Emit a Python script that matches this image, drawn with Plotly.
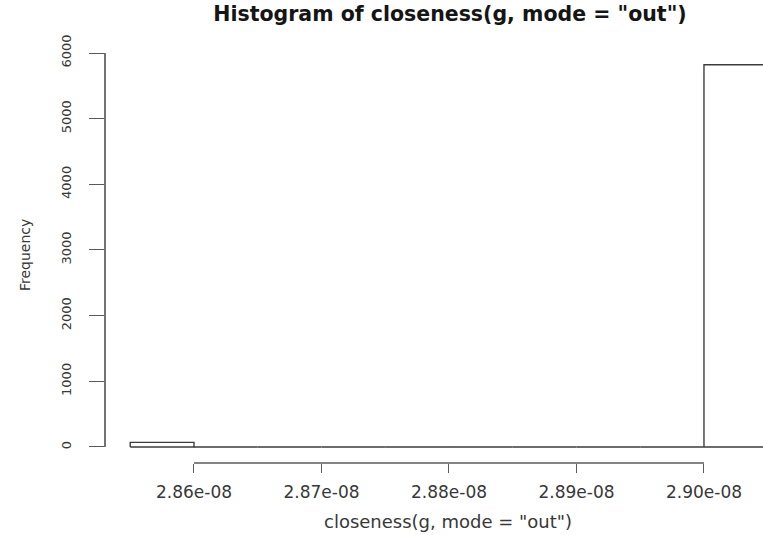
import plotly.graph_objects as go

# Histogram bins (closeness values) and their counts
bin_edges = [2.855e-08, 2.860e-08, 2.865e-08, 2.870e-08, 2.875e-08, 2.880e-08,
             2.885e-08, 2.890e-08, 2.895e-08, 2.900e-08, 2.905e-08]
counts = [70, 0, 0, 0, 0, 0, 0, 0, 0, 5820]

x_tickvals = [2.86e-08, 2.87e-08, 2.88e-08, 2.89e-08, 2.90e-08]
x_ticktext = ["2.86e-08", "2.87e-08", "2.88e-08", "2.89e-08", "2.90e-08"]
y_tickvals = [0, 1000, 2000, 3000, 4000, 5000, 6000]
y_ticktext = ["0", "1000", "2000", "3000", "4000", "5000", "6000"]

title_text = 'Histogram of closeness(g, mode = "out")'
x_label = 'closeness(g, mode = "out")'
y_label = "Frequency"

INK = "#383838"
AXIS = "#5a5a5a"
BAR = "#3c3c3c"
FONT = "DejaVu Sans"

# Outline every bin as an open rectangle (zero-count bins collapse onto the baseline)
rx, ry = [], []
for i, c in enumerate(counts):
    x0, x1 = bin_edges[i], bin_edges[i + 1]
    rx += [x0, x0, x1, x1, x0, None]
    ry += [0, c, c, 0, 0, None]

fig = go.Figure()
fig.add_trace(go.Scatter(
    x=rx, y=ry, mode="lines",
    line=dict(color=BAR, width=1.4),
    hoverinfo="skip", showlegend=False,
))

W, H = 763, 535
m_l, m_r, m_t, m_b = 105, 0, 40, 72

fig.update_layout(
    width=W, height=H,
    margin=dict(l=m_l, r=m_r, t=m_t, b=m_b, pad=0),
    paper_bgcolor="white", plot_bgcolor="white",
    showlegend=False,
    font=dict(family=FONT, color=INK),
    title=dict(
        text=title_text,
        x=450 / W, xanchor="center",
        y=1 - 14 / H, yanchor="middle",
        font=dict(family=FONT, size=20.5, color="#151515", weight="bold"),
    ),
    xaxis=dict(
        range=[2.85302e-08, 2.90463e-08],
        showgrid=False, zeroline=False, showline=False,
        ticks="outside", ticklen=9, tickwidth=1.4, tickcolor=AXIS,
        tickmode="array", tickvals=x_tickvals, ticktext=x_ticktext,
        tickfont=dict(family=FONT, size=17, color=INK),
        ticklabelstandoff=5,
    ),
    yaxis=dict(
        range=[-244, 6198],
        showgrid=False, zeroline=False, showline=False,
        ticks="outside", ticklen=15, tickwidth=1.4, tickcolor=AXIS,
        tickmode="array", tickvals=y_tickvals, ticktext=y_ticktext,
        tickangle=-90,
        tickfont=dict(family=FONT, size=13, color=INK),
        ticklabelstandoff=13,
    ),
)

# Axis lines spanning only the first to last tick
fig.add_shape(type="line", xref="paper", yref="y",
              x0=0, x1=0, y0=y_tickvals[0], y1=y_tickvals[-1],
              line=dict(color=AXIS, width=1.7), layer="above")
fig.add_shape(type="line", xref="x", yref="paper",
              x0=x_tickvals[0], x1=x_tickvals[-1], y0=0, y1=0,
              line=dict(color=AXIS, width=1.7), layer="above")

plot_w = W - m_l - m_r
plot_h = H - m_t - m_b
fig.add_annotation(
    text=x_label, xref="paper", yref="paper",
    x=(448 - m_l) / plot_w, y=-(521 - (H - m_b)) / plot_h,
    xanchor="center", yanchor="middle", showarrow=False,
    font=dict(family=FONT, size=18, color=INK),
)
fig.add_annotation(
    text=y_label, xref="paper", yref="paper",
    x=(25 - m_l) / plot_w, y=((H - m_b) - 255) / plot_h,
    xanchor="center", yanchor="middle", showarrow=False, textangle=-90,
    font=dict(family=FONT, size=14, color=INK),
)

fig.write_html("out.html")
